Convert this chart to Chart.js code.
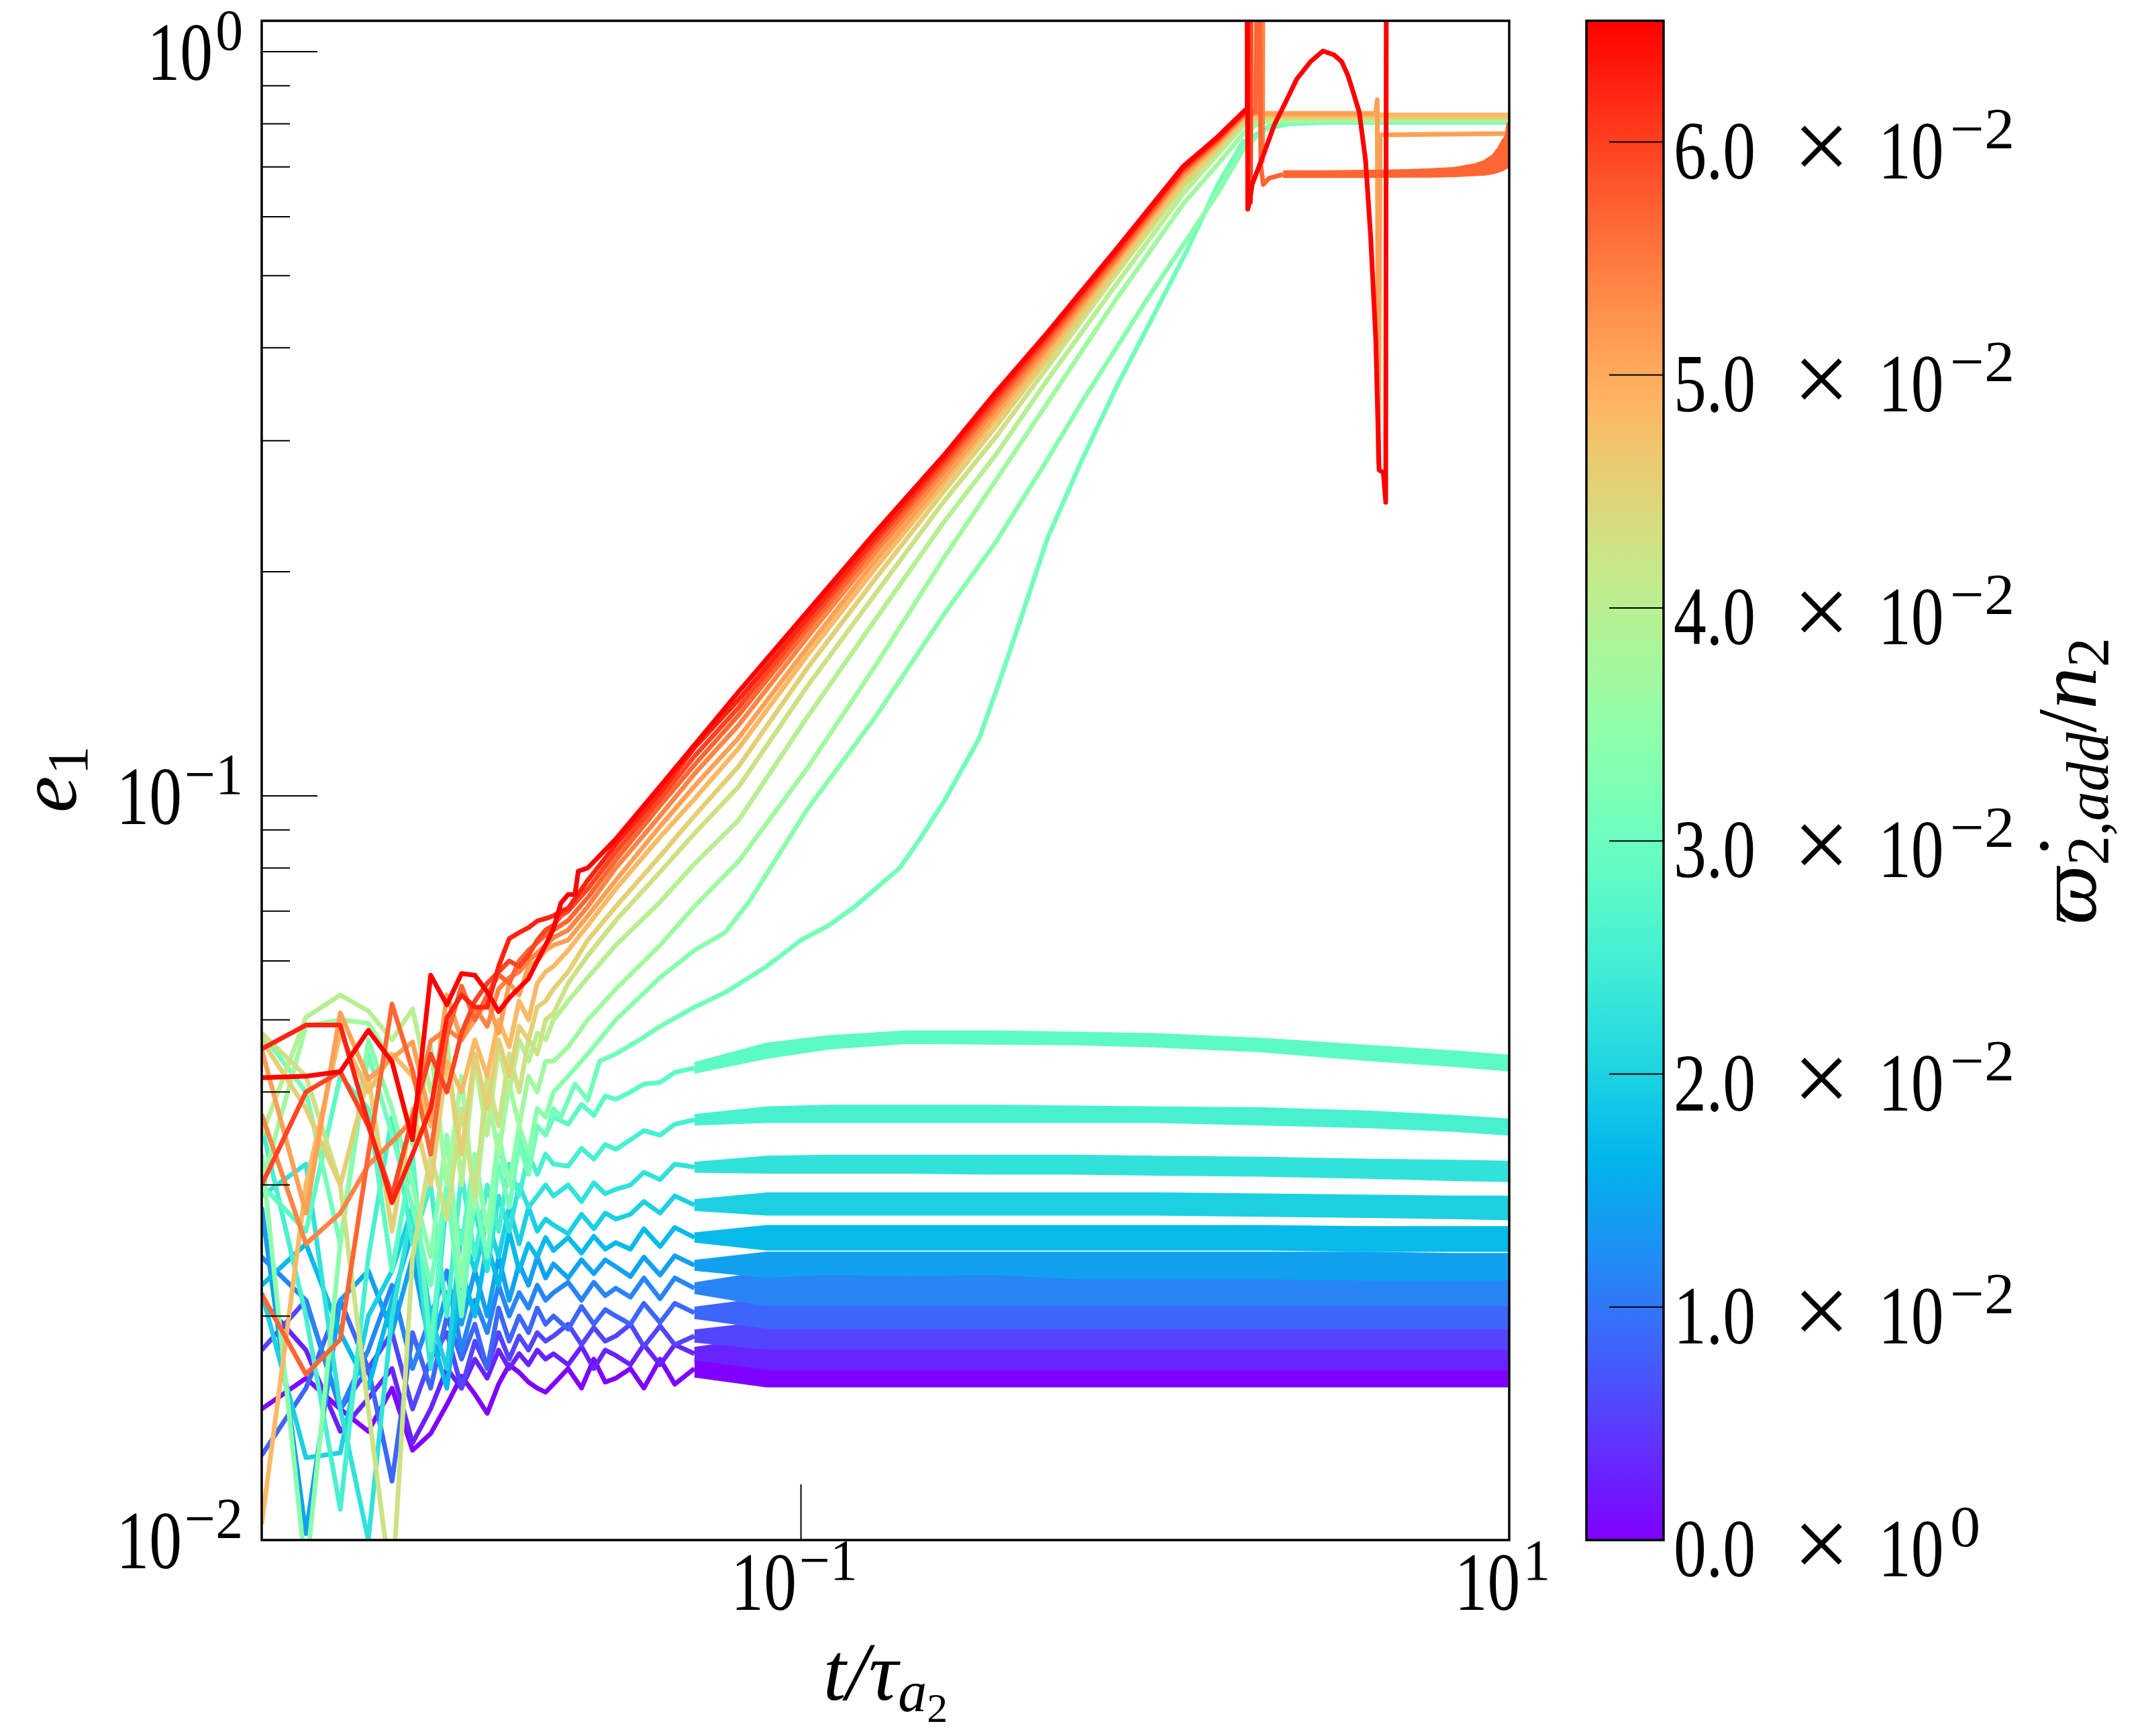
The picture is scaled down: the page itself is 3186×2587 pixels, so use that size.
<!DOCTYPE html>
<html><head><meta charset="utf-8">
<script src="https://cdn.jsdelivr.net/npm/chart.js@4.4.1/dist/chart.umd.min.js"></script>
<style>
html,body{margin:0;padding:0;background:#fff;}
#wrap{position:relative;width:3186px;height:2587px;background:#fff;}
#main{position:absolute;left:0;top:0;}
#cbar{position:absolute;left:2250px;top:0;}
</style></head><body>
<div id="wrap"><canvas id="main" width="3186" height="2587"></canvas><canvas id="cbar" width="936" height="2587"></canvas></div>
<script>
// ---------------- data ----------------
const CBAR_MAX = 0.0652;
const RATE = [0,0.00283,0.00567,0.00850,0.01134,0.01417,0.01701,0.01984,0.02268,0.02551,0.02835,0.03118,
              0.03402,0.03685,0.03969,0.04252,0.04536,0.04819,0.05103,0.05386,0.05670,0.05953,0.06237,0.06520];
const T_EARLY = [0.003,0.004,0.005,0.006,0.007,0.008,0.009,0.010,0.011,0.012,0.013,0.014,0.015,0.016,0.017,0.018,0.019,0.020];
const E_EARLY = [
 [.0150,.0165,.0150,.0140,.0160,.0132,.0139,.0152,.0166,.0157,.0148,.0162,.0172,.0168,.0163,.0160,.0158,.0162],
 [.0210,.0180,.0140,.0155,.0170,.0135,.0150,.0170,.0160,.0175,.0165,.0180,.0170,.0178,.0172,.0180,.0175,.0178],
 [.0180,.0210,.0150,.0170,.0190,.0150,.0175,.0190,.0160,.0185,.0170,.0190,.0175,.0188,.0180,.0190,.0185,.0188],
 [.0130,.0160,.0210,.0170,.0120,.0190,.0160,.0200,.0175,.0195,.0170,.0205,.0185,.0200,.0190,.0205,.0195,.0200],
 [.0240,.0210,.0150,.0180,.0220,.0170,.0200,.0230,.0180,.0210,.0190,.0220,.0200,.0215,.0205,.0220,.0210,.0215],
 [.0280,.0102,.0210,.0230,.0190,.0240,.0180,.0215,.0195,.0230,.0200,.0240,.0210,.0235,.0220,.0240,.0225,.0235],
 [.0220,.0250,.0190,.0160,.0210,.0260,.0190,.0160,.0230,.0200,.0250,.0220,.0260,.0230,.0250,.0240,.0255,.0245],
 [.0215,.0129,.0131,.0200,.0230,.0280,.0200,.0170,.0260,.0230,.0270,.0240,.0280,.0250,.0280,.0260,.0270,.0265],
 [.0290,.0320,.0150,.0100,.0200,.0280,.0170,.0290,.0220,.0280,.0230,.0290,.0260,.0300,.0280,.0290,.0300,.0290],
 [.0360,.0200,.0110,.0240,.0370,.0250,.0300,.0200,.0310,.0240,.0300,.0260,.0320,.0290,.0330,.0310,.0330,.0320],
 [.0300,.0260,.0420,.0380,.0230,.0330,.0180,.0300,.0250,.0330,.0260,.0340,.0300,.0350,.0320,.0360,.0350,.0370],
 [.0480,.0400,.0250,.0450,.0350,.0280,.0220,.0300,.0200,.0290,.0240,.0320,.0280,.0340,.0310,.0360,.0350,.0380],
 [.0330,.0090,.0250,.0470,.0380,.0300,.0240,.0350,.0220,.0330,.0260,.0350,.0300,.0360,.0330,.0380,.0370,.0400],
 [.0300,.0490,.0500,.0495,.0440,.0340,.0460,.0300,.0420,.0280,.0400,.0330,.0410,.0360,.0420,.0400,.0440,.0440],
 [.0350,.0504,.0540,.0514,.0470,.0517,.0400,.0470,.0300,.0440,.0350,.0460,.0400,.0470,.0440,.0480,.0470,.0500],
 [.0480,.0420,.0300,.0150,.0085,.0240,.0330,.0270,.0380,.0290,.0420,.0360,.0450,.0400,.0470,.0450,.0500,.0510],
 [.0470,.0380,.0300,.0420,.0260,.0380,.0300,.0440,.0330,.0450,.0380,.0470,.0420,.0490,.0470,.0520,.0530,.0550],
 [.0105,.0300,.0480,.0400,.0450,.0420,.0360,.0440,.0400,.0470,.0420,.0500,.0460,.0530,.0500,.0560,.0580,.0590],
 [.0456,.0275,.0511,.0416,.0444,.0467,.0367,.0540,.0470,.0500,.0530,.0480,.0560,.0540,.0590,.0600,.0620,.0630],
 [.0373,.0250,.0275,.0319,.0343,.0367,.0468,.0486,.0470,.0520,.0490,.0550,.0570,.0580,.0600,.0615,.0630,.0645],
 [.0214,.0167,.0186,.0330,.0525,.0428,.0330,.0476,.0555,.0500,.0540,.0575,.0560,.0600,.0620,.0635,.0650,.0660],
 [.0300,.0400,.0426,.0360,.0290,.0370,.0450,.0400,.0480,.0530,.0560,.0580,.0600,.0590,.0610,.0640,.0660,.0670],
 [.0457,.0492,.0492,.0363,.0284,.0330,.0380,.0503,.0540,.0520,.0520,.0590,.0643,.0655,.0665,.0679,.0684,.0690],
 [.0418,.0420,.0426,.0484,.0439,.0345,.0574,.0524,.0577,.0574,.0545,.0513,.0535,.0552,.0568,.0600,.0630,.0663]
];
const LATE = [
 [[0.022,0.0170],[0.024,0.0160],[0.026,0.0175],[0.028,0.0163],[0.030,0.0165],[0.033,0.0170],[0.036,0.0160],[0.040,0.0175],[0.044,0.0162],[0.050,0.0170]],
 [[0.022,0.0172],[0.024,0.0182],[0.026,0.0170],[0.028,0.0180],[0.030,0.0177],[0.033,0.0172],[0.036,0.0183],[0.040,0.0172],[0.044,0.0183],[0.050,0.0178]],
 [[0.022,0.0195],[0.024,0.0183],[0.026,0.0193],[0.028,0.0185],[0.030,0.0188],[0.033,0.0195],[0.036,0.0182],[0.040,0.0194],[0.044,0.0183],[0.050,0.0188]],
 [[0.022,0.0192],[0.024,0.0206],[0.026,0.0195],[0.028,0.0204],[0.030,0.0200],[0.033,0.0195],[0.036,0.0208],[0.040,0.0196],[0.044,0.0208],[0.050,0.0202]],
 [[0.022,0.0222],[0.024,0.0210],[0.026,0.0222],[0.028,0.0213],[0.030,0.0218],[0.033,0.0212],[0.036,0.0225],[0.040,0.0211],[0.044,0.0225],[0.050,0.0218]],
 [[0.022,0.0225],[0.024,0.0238],[0.026,0.0228],[0.028,0.0238],[0.030,0.0233],[0.033,0.0226],[0.036,0.0240],[0.040,0.0227],[0.044,0.0241],[0.050,0.0234]],
 [[0.022,0.0255],[0.024,0.0243],[0.026,0.0256],[0.028,0.0246],[0.030,0.0251],[0.033,0.0246],[0.036,0.0262],[0.040,0.0248],[0.044,0.0263],[0.050,0.0255]],
 [[0.022,0.0258],[0.024,0.0274],[0.026,0.0262],[0.028,0.0275],[0.030,0.0270],[0.033,0.0274],[0.036,0.0285],[0.040,0.0275],[0.044,0.0290],[0.050,0.0282]],
 [[0.022,0.0300],[0.024,0.0285],[0.026,0.0302],[0.028,0.0292],[0.030,0.0296],[0.033,0.0300],[0.036,0.0312],[0.040,0.0305],[0.044,0.0320],[0.050,0.0317]],
 [[0.022,0.0318],[0.024,0.0336],[0.026,0.0325],[0.028,0.0340],[0.030,0.0335],[0.033,0.0345],[0.036,0.0355],[0.040,0.0350],[0.044,0.0362],[0.050,0.0367]],
 [[0.022,0.0362],[0.024,0.0385],[0.026,0.0372],[0.028,0.0395],[0.030,0.0391],[0.033,0.0400],[0.036,0.0410],[0.040,0.0412],[0.044,0.0425],[0.050,0.0431]],
 [[0.021,0.037],[0.023,0.041],[0.025,0.039],[0.027,0.044],[0.030,0.045],[0.035,0.047],[0.040,0.049],[0.050,0.052],[0.061,0.0544],[0.080,0.059],[0.100,0.064],[0.120,0.067],[0.142,0.071],[0.190,0.0800],[0.215,0.087],[0.255,0.0988],[0.319,0.1196],[0.372,0.147],[0.416,0.172],[0.497,0.222],[0.620,0.282],[0.775,0.353],[0.968,0.433],[1.21,0.532],[1.51,0.665],[1.77,0.756],[2.1,0.790],[2.4,0.800],[3.0,0.803],[10,0.803]],
 [[0.022,0.042],[0.025,0.045],[0.030,0.050],[0.040,0.057],[0.050,0.062],[0.061,0.0655],[0.0713,0.0720],[0.104,0.0958],[0.162,0.1275],[0.253,0.1752],[0.354,0.2188],[0.494,0.282],[0.616,0.336],[0.961,0.469],[1.50,0.645],[1.79,0.744],[2.1,0.795],[2.5,0.806],[10,0.806]],
 [[0.022,0.046],[0.025,0.050],[0.030,0.055],[0.040,0.063],[0.050,0.071],[0.0667,0.0817],[0.104,0.1088],[0.162,0.1494],[0.253,0.2087],[0.354,0.2648],[0.494,0.336],[0.77,0.462],[1.2,0.624],[1.5,0.705],[1.79,0.780],[2.0,0.805],[2.3,0.809],[10,0.809]],
 [[0.022,0.053],[0.025,0.057],[0.030,0.063],[0.040,0.072],[0.050,0.081],[0.0667,0.0928],[0.104,0.1275],[0.162,0.1724],[0.253,0.2332],[0.354,0.2867],[0.494,0.361],[0.77,0.484],[1.2,0.645],[1.5,0.727],[1.79,0.799],[2.0,0.810],[2.3,0.812],[10,0.812]],
 [[0.022,0.056],[0.025,0.061],[0.030,0.068],[0.040,0.079],[0.050,0.089],[0.0667,0.1029],[0.104,0.1402],[0.162,0.1866],[0.253,0.2485],[0.354,0.3030],[0.494,0.3756],[0.77,0.500],[1.2,0.660],[1.5,0.736],[1.79,0.805],[1.95,0.813],[2.2,0.815],[10,0.815]],
 [[0.022,0.058],[0.025,0.064],[0.030,0.071],[0.040,0.083],[0.050,0.094],[0.0667,0.1096],[0.104,0.1483],[0.162,0.1957],[0.253,0.2565],[0.354,0.3128],[0.494,0.385],[0.77,0.508],[1.2,0.665],[1.5,0.742],[1.79,0.812],[1.9,0.817],[2.2,0.818],[10,0.818]],
 [[0.022,0.062],[0.025,0.067],[0.030,0.075],[0.040,0.088],[0.050,0.099],[0.0667,0.1159],[0.104,0.1543],[0.162,0.2021],[0.253,0.2627],[0.354,0.3204],[0.494,0.391],[0.77,0.516],[1.2,0.676],[1.5,0.748],[1.79,0.818],[1.9,0.822],[10,0.822]],
 [[0.022,0.064],[0.025,0.069],[0.030,0.077],[0.040,0.091],[0.050,0.103],[0.0667,0.1197],[0.104,0.1580],[0.162,0.2070],[0.253,0.2669],[0.354,0.3256],[0.494,0.397],[0.77,0.520],[1.2,0.681],[1.5,0.752],[1.79,0.821],[1.9,0.826],[4.2,0.826],[4.24,0.862],[4.27,0.28],[4.32,0.773],[10,0.776]],
 [[0.022,0.066],[0.025,0.071],[0.030,0.080],[0.040,0.094],[0.050,0.107],[0.0667,0.1245],[0.104,0.1631],[0.162,0.2120],[0.253,0.2725],[0.354,0.331],[0.494,0.4016],[0.77,0.524],[1.2,0.687],[1.5,0.756],[1.79,0.824],[1.98,0.828],[2.0,1.8],[2.01,0.7125],[2.02,1.8]],
 [[0.022,0.068],[0.025,0.073],[0.030,0.082],[0.040,0.097],[0.050,0.110],[0.0667,0.1284],[0.104,0.1670],[0.162,0.2161],[0.253,0.2769],[0.354,0.336],[0.494,0.407],[0.77,0.528],[1.2,0.690],[1.5,0.759],[1.79,0.827],[1.92,0.830],[1.96,1.8],[1.99,0.70],[2.02,0.663],[2.1,0.676],[2.3,0.684]],
 [[0.021,0.069],[0.022,0.070],[0.025,0.075],[0.030,0.084],[0.040,0.099],[0.050,0.113],[0.0667,0.1315],[0.104,0.1702],[0.162,0.2195],[0.253,0.2804],[0.354,0.340],[0.494,0.411],[0.77,0.533],[1.2,0.695],[1.5,0.762],[1.79,0.830],[1.84,0.832],[1.845,0.88],[1.86,0.627],[1.87,1.8]],
 [[0.021,0.0700],[0.022,0.0706],[0.025,0.077],[0.030,0.086],[0.040,0.101],[0.050,0.116],[0.0667,0.1347],[0.104,0.1730],[0.162,0.2223],[0.253,0.2836],[0.354,0.344],[0.494,0.415],[0.77,0.536],[1.2,0.698],[1.5,0.765],[1.79,0.831],[1.82,0.833],[1.835,1.8]],
 [[0.021,0.0718],[0.022,0.0737],[0.023,0.0737],[0.0235,0.0792],[0.025,0.0800],[0.030,0.0875],[0.040,0.103],[0.050,0.117],[0.0667,0.138],[0.104,0.1766],[0.162,0.2259],[0.253,0.2867],[0.354,0.348],[0.494,0.418],[0.77,0.540],[1.2,0.701],[1.5,0.768],[1.794,0.834],[1.816,0.836],[1.820,1.8],[1.826,0.614],[1.85,0.63],[1.88,0.663],[2.03,0.73],[2.17,0.797],[2.35,0.86],[2.51,0.918],[2.75,0.97],[2.98,1.002],[3.2,0.99],[3.36,0.97],[3.5,0.93],[3.6,0.892],[3.77,0.83],[3.93,0.714],[4.06,0.566],[4.2,0.41],[4.29,0.274],[4.41,0.272],[4.48,0.248],[4.50,1.8]]
];
// oscillation envelopes of the low-eccentricity runs (k = 0..10)
const BAND_T = [0.05,0.08,0.12,0.2,0.35,0.6,1.0,2.0,4.0,7.0,10.0];
const BAND_HI = [
 [.0174,.0178,.0178,.0178,.0178,.0178,.0178,.0178,.0178,.0178,.0178],
 [.0181,.0187,.0187,.0187,.0187,.0187,.0187,.0187,.0187,.0187,.0187],
 [.0191,.0196,.0196,.0196,.0196,.0196,.0196,.0196,.0196,.0196,.0196],
 [.0205,.0211,.0211,.0211,.0211,.0211,.0211,.0211,.0211,.0211,.0211],
 [.0221,.0229,.0229,.0229,.0229,.0229,.0229,.0229,.0229,.0229,.0229],
 [.0237,.0243,.0243,.0243,.0243,.0243,.0243,.0243,.0243,.0242,.0242],
 [.0258,.0264,.0264,.0264,.0264,.0264,.0264,.0264,.0263,.0263,.0263],
 [.0286,.0292,.0292,.0292,.0292,.0292,.0292,.0291,.0290,.0289,.0289],
 [.0321,.0327,.0328,.0328,.0328,.0328,.0327,.0326,.0324,.0323,.0322],
 [.0372,.0381,.0383,.0383,.0383,.0382,.0381,.0380,.0376,.0371,.0367],
 [.0437,.0464,.0475,.0482,.0482,.0480,.0478,.0471,.0461,.0453,.0447]
];
const BAND_LO = [
 [.0166,.0161,.0161,.0161,.0161,.0161,.0161,.0161,.0161,.0161,.0161],
 [.0175,.0170,.0170,.0170,.0170,.0170,.0170,.0170,.0170,.0170,.0170],
 [.0185,.0181,.0181,.0181,.0181,.0181,.0181,.0181,.0181,.0181,.0181],
 [.0199,.0193,.0193,.0193,.0193,.0193,.0193,.0193,.0193,.0193,.0193],
 [.0215,.0207,.0207,.0207,.0207,.0207,.0207,.0207,.0207,.0207,.0207],
 [.0231,.0226,.0228,.0227,.0228,.0225,.0225,.0225,.0224,.0224,.0224],
 [.0252,.0246,.0246,.0246,.0246,.0246,.0246,.0246,.0245,.0245,.0245],
 [.0278,.0274,.0274,.0274,.0274,.0274,.0274,.0273,.0272,.0271,.0270],
 [.0313,.0312,.0312,.0312,.0311,.0311,.0310,.0309,.0307,.0305,.0304],
 [.0362,.0365,.0365,.0365,.0365,.0365,.0365,.0362,.0359,.0355,.0351],
 [.0425,.0445,.0458,.0466,.0465,.0464,.0461,.0454,.0442,.0434,.0428]
];
// oscillating plateau of run k = 20
const K20_T  = [2.3,3,4,5,6,7,7.5,8,8.5,9,9.3,9.6,9.8,9.9,10];
const K20_HI = [.690,.690,.691,.692,.694,.697,.701,.705,.712,.725,.740,.760,.770,.800,.790];
const K20_LO = [.679,.679,.679,.680,.680,.681,.682,.683,.684,.687,.690,.694,.698,.700,.700];

// axis ticks
const Y_MAJOR = [0.01,0.1,1];
const Y_MAJOR_EXP = ['\u22122','\u22121','0'];
const Y_MINOR = [0.02,0.03,0.04,0.05,0.06,0.07,0.08,0.09,0.2,0.3,0.4,0.5,0.6,0.7,0.8,0.9];
const X_MAJOR = [0.1,10];
const X_MAJOR_EXP = ['\u22121','1'];
const CB_TICKS = [0,0.01,0.02,0.03,0.04,0.05,0.06];
const CB_MANT = ['0.0','1.0','2.0','3.0','4.0','5.0','6.0'];
const CB_EXP = ['0','\u22122','\u22122','\u22122','\u22122','\u22122','\u22122'];

// ---------------- helpers ----------------
function rainbow(x){x=Math.max(0,Math.min(1,x));const r=Math.min(1,Math.abs(2*x-0.5)),g=Math.sin(Math.PI*x),b=Math.cos(Math.PI*x/2);
 return 'rgb('+Math.round(r*255)+','+Math.round(g*255)+','+Math.round(b*255)+')';}
const SERIF='"Liberation Serif","DejaVu Serif",serif';
const BASE_FONT='122px '+SERIF, EXP_FONT='86px '+SERIF, HS=0.8, HSE=0.95;
function textW(ctx,s,font,hs){ctx.font=font;return ctx.measureText(s).width*hs;}
function put(ctx,s,x,y,font,hs){ctx.save();ctx.font=font;ctx.textAlign='left';ctx.textBaseline='alphabetic';ctx.fillStyle='#000';
 ctx.translate(x,y);ctx.scale(hs,1);ctx.fillText(s,0,0);ctx.restore();}
function pow10(ctx,exp,x,y,align){const wb=textW(ctx,'10',BASE_FONT,HS),we=textW(ctx,exp,EXP_FONT,HSE),tot=wb+4+we;
 let x0=align==='right'?x-tot:(align==='center'?x-tot/2:x);put(ctx,'10',x0,y,BASE_FONT,HS);put(ctx,exp,x0+wb+4,y-45,EXP_FONT,HSE);}

// ---------------- datasets ----------------
const datasets=[];
for(let k=0;k<24;k++){
 const col=rainbow(RATE[k]/CBAR_MAX);
 const pts=T_EARLY.map((t,i)=>({x:t,y:E_EARLY[k][i]})).concat(LATE[k].map(p=>({x:p[0],y:p[1]})));
 datasets.push({data:pts,borderColor:col,borderWidth:7,fill:false,order:23-k,clip:0,pointRadius:0});
 if(k<=10){
  datasets.push({data:BAND_T.map((t,i)=>({x:t,y:BAND_HI[k][i]})),borderColor:col,borderWidth:4,fill:false,order:23-k,clip:0,pointRadius:0});
  datasets.push({data:BAND_T.map((t,i)=>({x:t,y:BAND_LO[k][i]})),borderColor:col,borderWidth:4,backgroundColor:col,fill:'-1',order:23-k,clip:0,pointRadius:0});
 }
 if(k===20){
  datasets.push({data:K20_T.map((t,i)=>({x:t,y:K20_HI[i]})),borderColor:col,borderWidth:4,fill:false,order:23-k,clip:0,pointRadius:0});
  datasets.push({data:K20_T.map((t,i)=>({x:t,y:K20_LO[i]})),borderColor:col,borderWidth:4,backgroundColor:col,fill:'-1',order:23-k,clip:0,pointRadius:0});
 }
}

const mainDeco={id:'mainDeco',afterDraw(chart){
 const ctx=chart.ctx,a=chart.chartArea,xs=chart.scales.x,ys=chart.scales.y;
 ctx.save();ctx.strokeStyle='#000';ctx.lineCap='butt';
 ctx.lineWidth=2;
 Y_MAJOR.forEach(v=>{const y=ys.getPixelForValue(v);ctx.beginPath();ctx.moveTo(a.left,y);ctx.lineTo(a.left+83,y);ctx.stroke();});
 Y_MINOR.forEach(v=>{const y=ys.getPixelForValue(v);ctx.beginPath();ctx.moveTo(a.left,y);ctx.lineTo(a.left+42,y);ctx.stroke();});
 X_MAJOR.forEach(v=>{const x=xs.getPixelForValue(v);ctx.beginPath();ctx.moveTo(x,a.bottom);ctx.lineTo(x,a.bottom-83);ctx.stroke();});
 ctx.lineWidth=3.5;ctx.strokeRect(a.left,a.top,a.right-a.left,a.bottom-a.top);
 ctx.restore();
 Y_MAJOR.forEach((v,i)=>pow10(ctx,Y_MAJOR_EXP[i],362,ys.getPixelForValue(v)+42,'right'));
 X_MAJOR.forEach((v,i)=>pow10(ctx,X_MAJOR_EXP[i],xs.getPixelForValue(v)-10,2399,'center'));
 // y label e_1
 ctx.save();ctx.translate(113,1211);ctx.rotate(-Math.PI/2);
 ctx.fillStyle='#000';ctx.font='italic 123px '+SERIF;ctx.textBaseline='alphabetic';ctx.fillText('e',0,0);
 const we=ctx.measureText('e').width;ctx.font='86px '+SERIF;ctx.fillText('1',we+2,17);ctx.restore();
 // x label t/tau_{a_2}
 ctx.save();ctx.fillStyle='#000';ctx.textBaseline='alphabetic';
 ctx.font='italic 122px '+SERIF;const w1=ctx.measureText('t/\u03C4').width;
 ctx.font='italic 86px '+SERIF;const w2=ctx.measureText('a').width;
 ctx.font='62px '+SERIF;const w3=ctx.measureText('2').width;
 let x0=(a.left+a.right)/2-(w1+w2+w3)/2;
 ctx.font='italic 122px '+SERIF;ctx.fillText('t/\u03C4',x0,2533);
 ctx.font='italic 86px '+SERIF;ctx.fillText('a',x0+w1,2550);
 ctx.font='62px '+SERIF;ctx.fillText('2',x0+w1+w2,2566);
 ctx.restore();
}};

new Chart(document.getElementById('main'),{
 type:'line',
 data:{datasets},
 options:{responsive:false,animation:false,devicePixelRatio:1,
  layout:{padding:{left:0,top:31,right:937,bottom:0}},
  plugins:{legend:{display:false},tooltip:{enabled:false}},
  elements:{point:{radius:0},line:{tension:0,borderJoinStyle:'round',borderCapStyle:'butt'}},
  scales:{
   x:{type:'logarithmic',min:0.003,max:10,grid:{display:false},border:{display:false},ticks:{display:false},afterFit(s){s.height=292;}},
   y:{type:'logarithmic',min:0.01,max:1.1,grid:{display:false},border:{display:false},ticks:{display:false},afterFit(s){s.width=390;}}
  }},
 plugins:[mainDeco]
});

// ---------------- colorbar ----------------
const cbDeco={id:'cbDeco',afterDraw(chart){
 const ctx=chart.ctx,a=chart.chartArea,ys=chart.scales.y;
 ctx.save();ctx.strokeStyle='#000';ctx.lineWidth=2;
 CB_TICKS.forEach(v=>{const y=ys.getPixelForValue(v);ctx.beginPath();ctx.moveTo(a.right,y);ctx.lineTo(a.right-81,y);ctx.stroke();});
 ctx.lineWidth=3.5;ctx.strokeRect(a.left,a.top,a.right-a.left,a.bottom-a.top);ctx.restore();
 CB_TICKS.forEach((v,i)=>{const y=ys.getPixelForValue(v)+54;const x0=a.right+15;
  put(ctx,CB_MANT[i],x0,y,BASE_FONT,HS);
  put(ctx,'\u00D7',x0+178,y+2,'150px '+SERIF,1);
  put(ctx,'10',x0+305,y,BASE_FONT,HS);
  put(ctx,CB_EXP[i],x0+412,y-45,EXP_FONT,1.05);});
 // colorbar label: varpi-dot_{2,add}/n_2
 ctx.save();ctx.fillStyle='#000';ctx.textBaseline='alphabetic';
 const F1='italic 125px '+SERIF,F2='88px '+SERIF,F2i='italic 88px '+SERIF,F3='125px '+SERIF;
 const parts=[['\u03D6\u0307',F1,0],['2,',F2,18],['add',F2i,18],['/',F3,0],['n',F1,0],['2',F2,18]];
 let tot=0;parts.forEach(p=>{ctx.font=p[1];tot+=ctx.measureText(p[0]).width;});
 ctx.translate(873,1164);ctx.rotate(-Math.PI/2);
 let x=-tot/2;parts.forEach(p=>{ctx.font=p[1];ctx.fillText(p[0],x,p[2]);x+=ctx.measureText(p[0]).width;});
 ctx.restore();
}};
new Chart(document.getElementById('cbar'),{
 type:'bar',
 data:{labels:['cb'],datasets:[{data:[CBAR_MAX],borderWidth:0,barPercentage:1,categoryPercentage:1,
  backgroundColor:(c)=>{const ch=c.chart;if(!ch.chartArea)return '#888';const ys=ch.scales.y;
   const g=ch.ctx.createLinearGradient(0,ys.getPixelForValue(0),0,ys.getPixelForValue(CBAR_MAX));
   for(let i=0;i<=64;i++)g.addColorStop(i/64,rainbow(i/64));return g;}}]},
 options:{responsive:false,animation:false,devicePixelRatio:1,
  layout:{padding:{left:114,right:707,top:31,bottom:292}},
  plugins:{legend:{display:false},tooltip:{enabled:false}},
  scales:{x:{display:false},y:{display:false,min:0,max:CBAR_MAX}}},
 plugins:[cbDeco]
});
</script>
</body></html>
